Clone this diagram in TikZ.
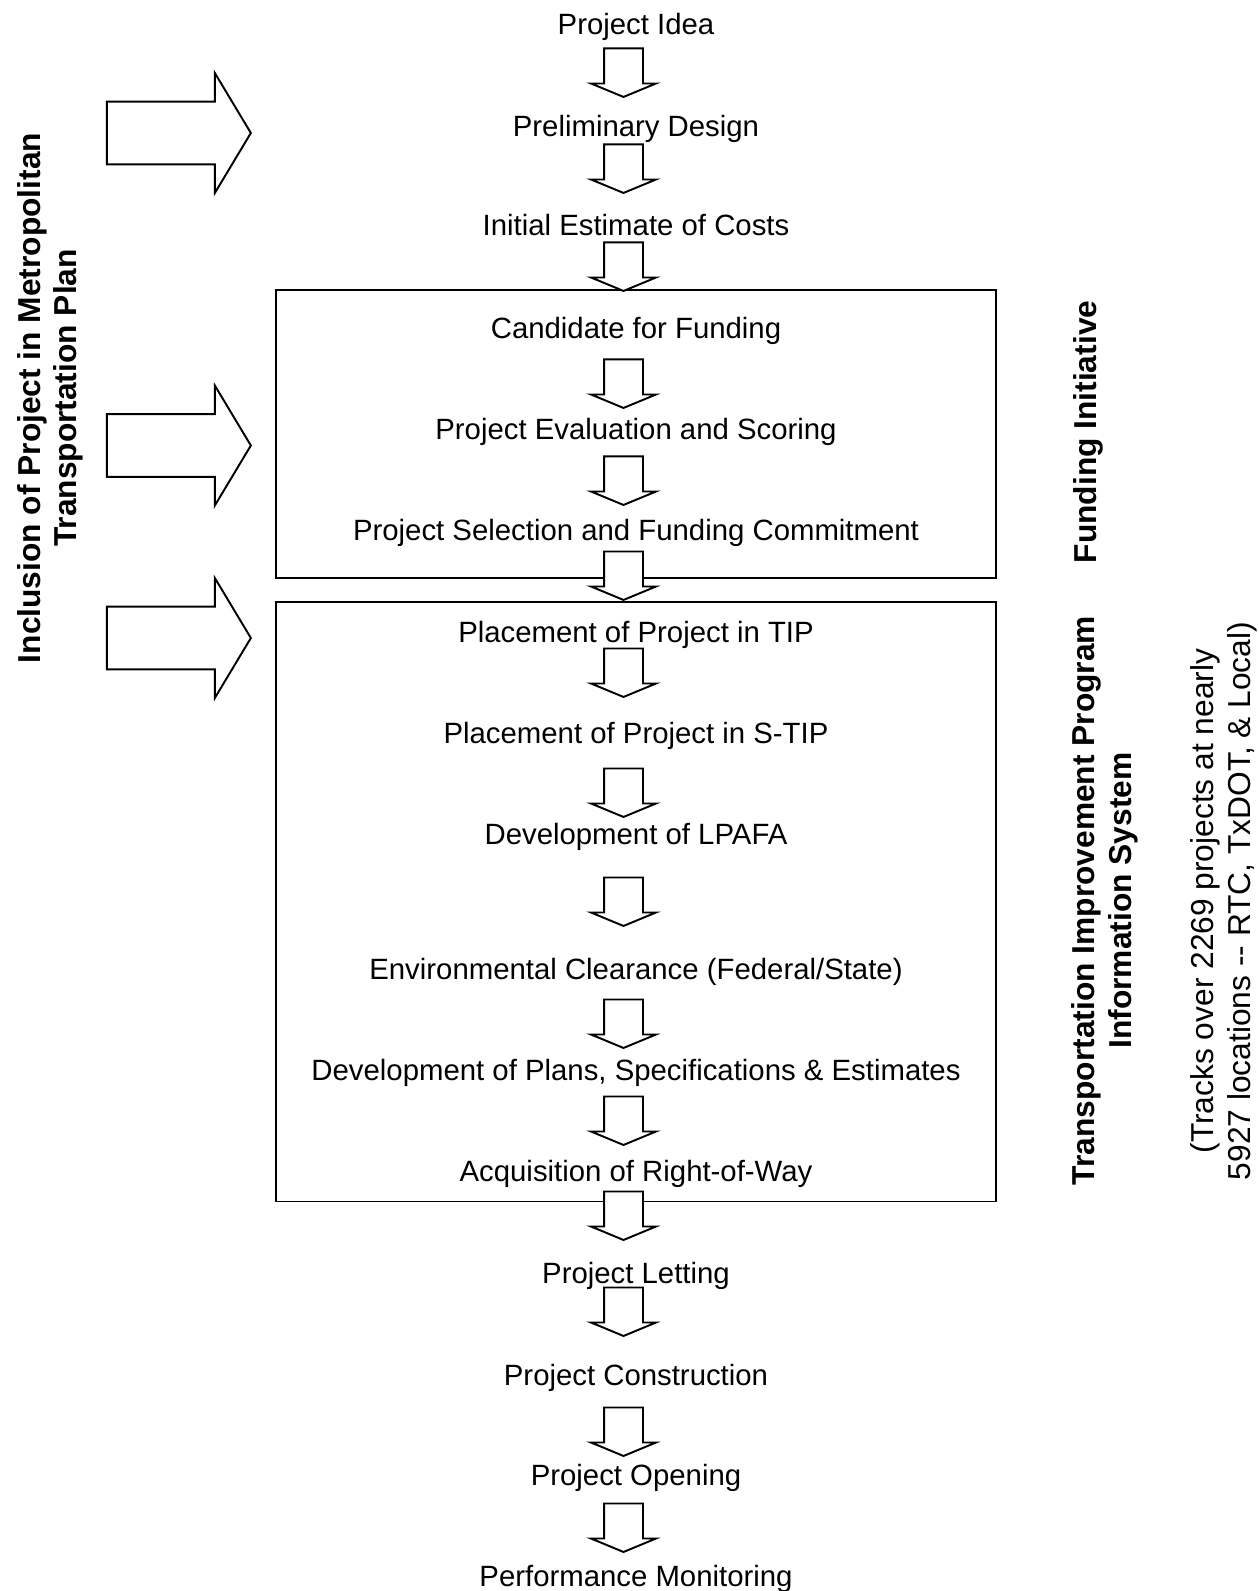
\documentclass[tikz,border=0pt]{standalone}
\usepackage{fontspec}
\setmainfont{Liberation Sans}
\usepackage{tikz}
\usetikzlibrary{shapes.arrows}
\tikzset{stage/.style = {anchor=base, inner sep=0pt, font=\fontsize{16.7}{20}\selectfont},
         side/.style = {rotate=90, inner sep=0pt, align=center, font=\fontsize{18.05}{20.8}\selectfont},
         sidebold/.style = {side, font=\fontsize{18.05}{20.8}\selectfont\bfseries},
         downblock/.style = {single arrow, draw, fill=white, line width=1.1pt, shape border rotate=270,
                             minimum height=0.97cm, inner sep=0.37cm, single arrow head extend=0.26cm,
                             single arrow tip angle=135, anchor=tip},
         rightblock/.style = {single arrow, draw, fill=white, line width=1.1pt,
                              minimum height=2.88cm, inner sep=0.61cm, single arrow head extend=0.57cm,
                              single arrow tip angle=118, anchor=tip}}

\begin{document}
\begin{tikzpicture}[x=0.02cm, y=-0.02cm]
      \useasboundingbox (0, 0) rectangle (1258, 1591);

      \draw [line width=1.1pt] (276, 290) rectangle (996, 577.7);
      \draw [line width=1.1pt] (276, 601.7) rectangle (996, 1201.5);

      \node [stage] (idea) at (636, 35) {Project Idea};
      \node [stage] (design) at (636, 136.5) {Preliminary Design};
      \node [stage] (estimate) at (636, 236) {Initial Estimate of Costs};
      \node [stage] (candidate) at (636, 338.3) {Candidate for Funding};
      \node [stage] (scoring) at (636, 439.3) {Project Evaluation and Scoring};
      \node [stage] (selection) at (636, 540) {Project Selection and Funding Commitment};
      \node [stage] (tip) at (636, 642.3) {Placement of Project in TIP};
      \node [stage] (stip) at (636, 743.3) {Placement of Project in S-TIP};
      \node [stage] (lpafa) at (636, 844.3) {Development of LPAFA};
      \node [stage] (clearance) at (636, 979.3) {Environmental Clearance (Federal/State)};
      \node [stage] (pse) at (636, 1080.7) {Development of Plans, Specifications \& Estimates};
      \node [stage] (row) at (636, 1181.7) {Acquisition of Right-of-Way};
      \node [stage] (letting) at (636, 1283.3) {Project Letting};
      \node [stage] (construction) at (636, 1385) {Project Construction};
      \node [stage] (opening) at (636, 1485) {Project Opening};
      \node [stage] (monitoring) at (636, 1586.7) {Performance Monitoring};

      \foreach \t [count=\i] in {98, 194, 292, 409, 506, 601, 698, 818, 927, 1049, 1146, 1241, 1337, 1457, 1553}
        \node [downblock] (down\i) at (623.5, \t) {};

      \foreach \t [count=\i] in {133, 445.5, 638}
        \node [rightblock] (plan\i) at (252, \t) {};

      \node [sidebold] (mtp) at (50.3, 398) {Inclusion of Project in Metropolitan\\Transportation Plan};
      \node [sidebold, anchor=base] (funding) at (1096, 432) {Funding Initiative};
      \node [sidebold] (tipis) at (1105, 900.5) {Transportation Improvement Program\\Information System};
      \node [side] (tracks) at (1224, 901) {(Tracks over 2269 projects at nearly\\5927 locations {-}{-} RTC, TxDOT, \& Local)};
    \end{tikzpicture}
\end{document}
